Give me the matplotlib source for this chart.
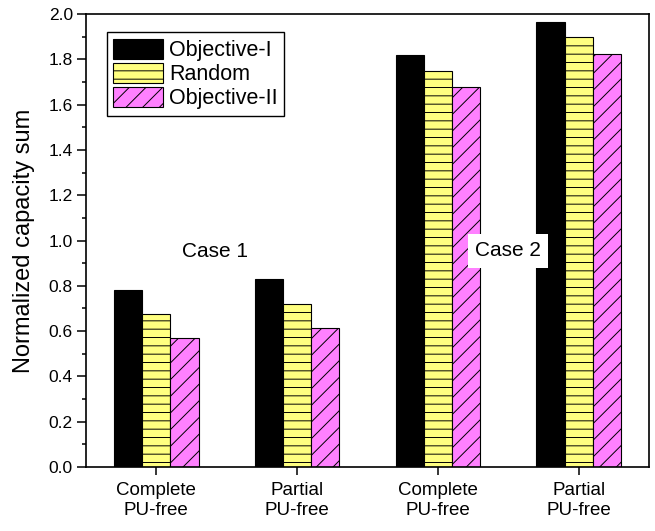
import numpy as np
import matplotlib
matplotlib.use("Agg")
import matplotlib.pyplot as plt
from matplotlib.ticker import MultipleLocator, FormatStrFormatter

plt.rcParams['font.family'] = ['Liberation Sans', 'DejaVu Sans']
plt.rcParams['hatch.linewidth'] = 0.7

categories = ["Complete\nPU-free", "Partial\nPU-free", "Complete\nPU-free", "Partial\nPU-free"]
series_names = ["Objective-I", "Random", "Objective-II"]
objective_1 = [0.78, 0.83, 1.82, 1.965]
random_sel = [0.675, 0.72, 1.75, 1.90]
objective_2 = [0.57, 0.615, 1.68, 1.825]
case_labels = ["Case 1", "Case 2"]

colors = ["#000000", "#FFFF80", "#FF80FF"]
hatches = [None, "--", "//"]

fig = plt.figure(figsize=(6.55, 5.31), dpi=100)
ax = fig.add_axes([0.1313, 0.1205, 0.8595, 0.853])

x = np.arange(len(categories))
width = 0.2
for i, (vals, name) in enumerate(zip([objective_1, random_sel, objective_2], series_names)):
    ax.bar(x + (i - 1) * width, vals, width, color=colors[i], edgecolor="black",
           linewidth=0.8, hatch=hatches[i], label=name, zorder=2)

ax.set_xlim(-0.5, 3.5)
ax.set_ylim(0, 2.0)
ax.set_xticks(x)
ax.set_xticklabels(categories, fontsize=13.5)
ax.yaxis.set_major_locator(MultipleLocator(0.2))
ax.yaxis.set_minor_locator(MultipleLocator(0.1))
ax.yaxis.set_major_formatter(FormatStrFormatter("%.1f"))
ax.tick_params(axis="y", which="major", direction="out", length=6.5, width=1.1,
               labelsize=12.5, pad=3)
ax.tick_params(axis="y", which="minor", direction="out", length=3.2, width=1.1)
ax.tick_params(axis="x", which="major", direction="out", length=6, width=1.1, pad=5)
for sp in ax.spines.values():
    sp.set_linewidth(1.2)

ax.set_ylabel("Normalized capacity sum", fontsize=17, labelpad=10)

ax.text(0.42, 0.95, case_labels[0], fontsize=15, ha="center", va="center", zorder=5)
ax.text(2.50, 0.955, case_labels[1], fontsize=15, ha="center", va="center", zorder=5,
        bbox=dict(boxstyle="square,pad=0.35", facecolor="white", edgecolor="none"))

leg = ax.legend(loc="upper left", bbox_to_anchor=(0.037, 0.96), borderaxespad=0,
                fontsize=15.5, handlelength=2.3, handleheight=1.05, labelspacing=0.08,
                handletextpad=0.3, borderpad=0.3, fancybox=False, framealpha=1)
leg.get_frame().set_edgecolor("black")
leg.get_frame().set_linewidth(1.0)

fig.savefig("out.png", dpi=100)
